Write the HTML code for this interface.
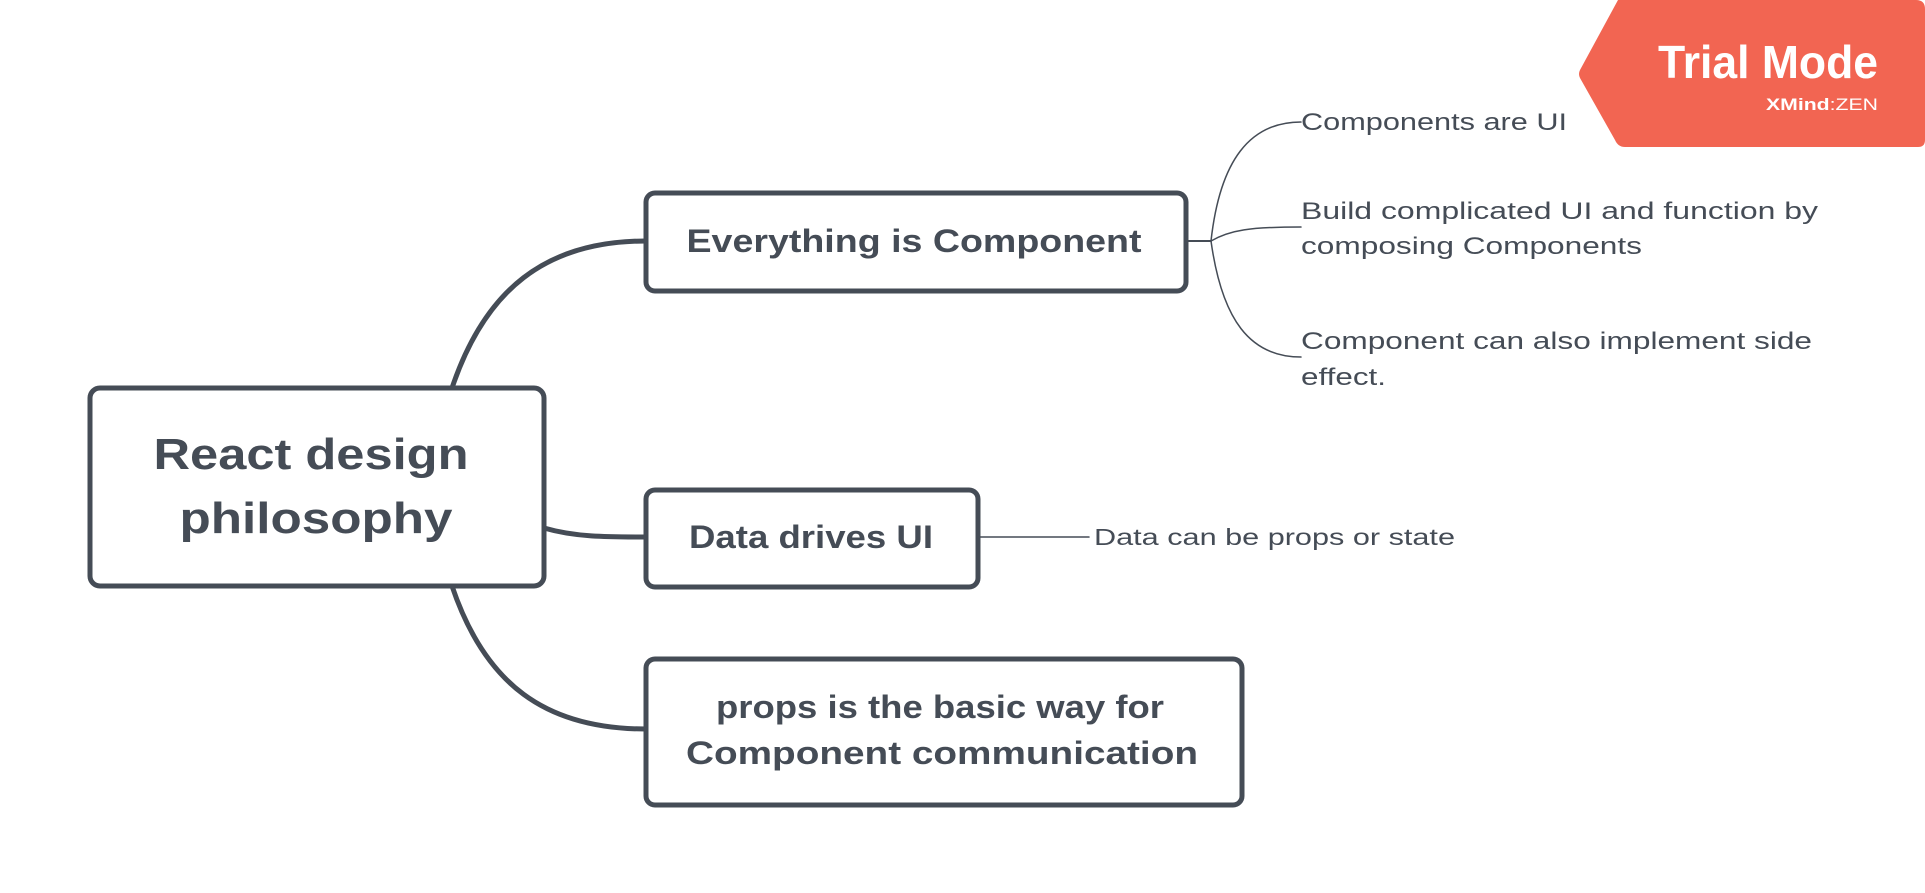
<!DOCTYPE html>
<html><head><meta charset="utf-8"><style>
html,body{margin:0;padding:0;background:#fff;}
svg{display:block}
text{font-family:"Liberation Sans",sans-serif;fill:#454c56}
</style></head><body>
<svg width="1925" height="893" viewBox="0 0 1925 893" xmlns="http://www.w3.org/2000/svg">
<g fill="none" stroke="#454c56" stroke-linecap="round">
<path d="M452 388 C485 290 545 241 646 241" stroke-width="5"/>
<path d="M544 528 C575 537 605 537 646 537" stroke-width="5"/>
<path d="M452 586 C485 684 545 729 646 729" stroke-width="5"/>
<path d="M1186 241 L1211 241" stroke-width="2"/>
<path d="M1211 241 C1220 160 1250 122 1301 122" stroke-width="1.5"/>
<path d="M1211 241 C1230 230 1250 227 1301 227" stroke-width="1.5"/>
<path d="M1211 241 C1222 320 1250 357 1301 357" stroke-width="1.5"/>
<path d="M978 537 L1089 537" stroke-width="1.5"/>
<rect x="90" y="388" width="454" height="198" rx="10" stroke-width="5" fill="#fff"/>
<rect x="646" y="193" width="540" height="98" rx="9" stroke-width="5" fill="#fff"/>
<rect x="646" y="490" width="332" height="97" rx="9" stroke-width="5" fill="#fff"/>
<rect x="646" y="659" width="596" height="146" rx="9" stroke-width="5" fill="#fff"/>
</g>
<g font-weight="bold" text-anchor="middle" lengthAdjust="spacingAndGlyphs">
<text x="311" y="469" font-size="44" textLength="315" lengthAdjust="spacingAndGlyphs">React design</text>
<text x="316" y="533" font-size="44" textLength="273" lengthAdjust="spacingAndGlyphs">philosophy</text>
<text x="914" y="252" font-size="32" textLength="455" lengthAdjust="spacingAndGlyphs">Everything is Component</text>
<text x="811" y="548" font-size="32" textLength="244" lengthAdjust="spacingAndGlyphs">Data drives UI</text>
<text x="940" y="718" font-size="32" textLength="448" lengthAdjust="spacingAndGlyphs">props is the basic way for</text>
<text x="942" y="764" font-size="32" textLength="512" lengthAdjust="spacingAndGlyphs">Component communication</text>
</g>
<g font-size="24">
<text x="1301" y="130" textLength="266" lengthAdjust="spacingAndGlyphs">Components are UI</text>
<text x="1301" y="219" textLength="517" lengthAdjust="spacingAndGlyphs">Build complicated UI and function by</text>
<text x="1301" y="254" textLength="341" lengthAdjust="spacingAndGlyphs">composing Components</text>
<text x="1301" y="349" textLength="511" lengthAdjust="spacingAndGlyphs">Component can also implement side</text>
<text x="1301" y="385" textLength="85" lengthAdjust="spacingAndGlyphs">effect.</text>
<text x="1094" y="545" font-size="23" textLength="361" lengthAdjust="spacingAndGlyphs">Data can be props or state</text>
</g>
<path d="M1618 0 L1916 0 Q1925 0 1925 9 L1925 140 Q1925 147 1918 147 L1625 147 Q1618 147 1615 140 L1580 78 Q1578 74 1580 70 Z" fill="#f26552"/>
<text x="1878" y="78" font-size="46" font-weight="bold" text-anchor="end" style="fill:#fff" textLength="220" lengthAdjust="spacingAndGlyphs">Trial Mode</text>
<text x="1878" y="110" font-size="17" text-anchor="end" style="fill:#fff" textLength="112" lengthAdjust="spacingAndGlyphs"><tspan font-weight="bold">XMind</tspan>:ZEN</text>
</svg>
</body></html>
